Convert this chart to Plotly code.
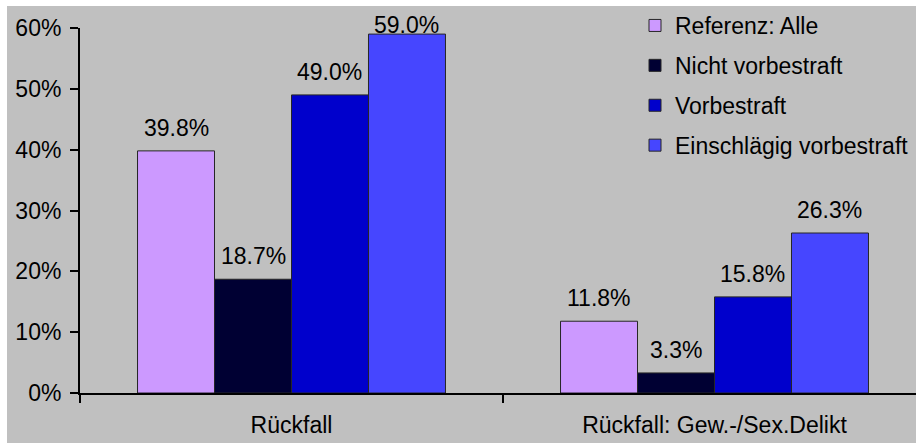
import plotly.graph_objects as go

# --- data -------------------------------------------------------------
categories = ["Rückfall", "Rückfall: Gew.-/Sex.Delikt"]
series_names = ["Referenz: Alle", "Nicht vorbestraft", "Vorbestraft", "Einschlägig vorbestraft"]
referenz_alle = [39.8, 11.8]
nicht_vorbestraft = [18.7, 3.3]
vorbestraft = [49.0, 15.8]
einschlaegig_vorbestraft = [59.0, 26.3]
y_tick_values = [0, 10, 20, 30, 40, 50, 60]
y_tick_labels = ["0%", "10%", "20%", "30%", "40%", "50%", "60%"]

series_values = [referenz_alle, nicht_vorbestraft, vorbestraft, einschlaegig_vorbestraft]

# --- style --------------------------------------------------------------
colors = ["#CC99FF", "#000033", "#0000CC", "#4646FF"]
FONT = "Liberation Sans, Arial, sans-serif"
FONT_SIZE = 23
BG = "#C0C0C0"

W, H = 916, 443
M_L, M_R, M_T, M_B = 80, 0, 28, 50
plot_w = W - M_L - M_R
plot_h = H - M_T - M_B
CAT_PX = 423                      # pixel width of one category slot
BARGAP = 0.272
Y_MAX = 60
x_range = [-0.5, -0.5 + plot_w / CAT_PX]

fig = go.Figure()
for name, vals, col in zip(series_names, series_values, colors):
    fig.add_trace(go.Bar(
        name=name, x=categories, y=vals, legendgroup=name,
        marker=dict(color=col, line=dict(color="#262626", width=1)),
        hoverinfo="skip",
    ))

# value labels above each bar, kept within the chart area near the top
n = len(series_values)
group_w = 1 - BARGAP
bar_w = group_w / n
px_per_unit = plot_h / Y_MAX
LABEL_GAP = 8
LABEL_BOX = 27.7
TOP_ROOM = 16
annotations = []
for i, vals in enumerate(series_values):
    offset = -group_w / 2 + bar_w * (i + 0.5)
    for j, v in enumerate(vals):
        headroom = (Y_MAX - v) * px_per_unit
        shift = min(LABEL_GAP, headroom + TOP_ROOM - LABEL_BOX)
        annotations.append(dict(
            x=j + offset, y=v, xref="x", yref="y",
            text=f"{v:.1f}%", showarrow=False,
            yanchor="bottom", xanchor="center", yshift=shift,
            font=dict(family=FONT, size=FONT_SIZE, color="black"),
        ))

# white frame strips along the top and left edges
def px_x(p):
    return (p - M_L) / plot_w

def px_y(p):
    return (H - M_B - p) / plot_h

shapes = [
    dict(type="rect", xref="paper", yref="paper", layer="below",
         x0=px_x(0), x1=px_x(W), y0=px_y(6), y1=px_y(0),
         fillcolor="white", line=dict(width=0)),
    dict(type="rect", xref="paper", yref="paper", layer="below",
         x0=px_x(0), x1=px_x(7), y0=px_y(H), y1=px_y(0),
         fillcolor="white", line=dict(width=0)),
]

fig.update_layout(
    width=W, height=H,
    margin=dict(l=M_L, r=M_R, t=M_T, b=M_B, pad=0),
    paper_bgcolor=BG, plot_bgcolor=BG,
    font=dict(family=FONT, size=FONT_SIZE, color="black"),
    barmode="group", bargap=BARGAP, bargroupgap=0,
    showlegend=True,
    legend=dict(
        x=px_x(635), xanchor="left", y=px_y(4), yanchor="top",
        bgcolor="rgba(0,0,0,0)", borderwidth=0,
        font=dict(family=FONT, size=FONT_SIZE, color="black"),
        tracegroupgap=7, itemwidth=30, traceorder="grouped",
    ),
    annotations=annotations,
    shapes=shapes,
)

fig.update_xaxes(
    type="category", range=x_range,
    showline=True, linecolor="black", linewidth=2,
    ticks="outside", tickson="boundaries", ticklen=8, tickwidth=2, tickcolor="black",
    showgrid=False, zeroline=False, ticklabelstandoff=10,
)
fig.update_yaxes(
    range=[0, Y_MAX], tickmode="array", tickvals=y_tick_values, ticktext=y_tick_labels,
    showline=True, linecolor="black", linewidth=2,
    ticks="outside", ticklen=8, tickwidth=2, tickcolor="black",
    showgrid=False, zeroline=False, ticklabelstandoff=4,
)

fig.write_html("out.html")
